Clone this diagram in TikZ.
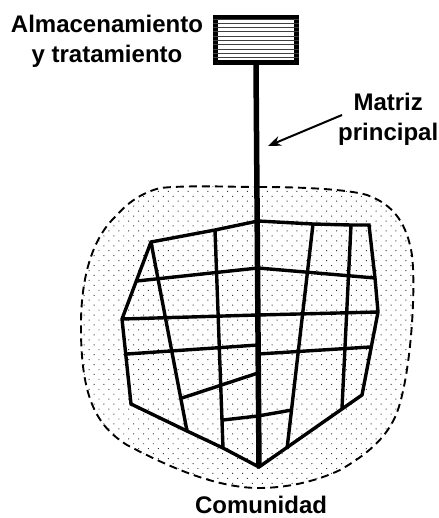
\documentclass[tikz,border=0pt]{standalone}
\usepackage{fontspec}
\setmainfont{Liberation Sans}
\usetikzlibrary{positioning}
\usetikzlibrary{patterns.meta}
\usetikzlibrary{arrows.meta}

\begin{document}
\begin{tikzpicture}[x = 1pt, y = -1pt]
  \tikzstyle{tank}=[
      rectangle, minimum width = 81pt, minimum height = 45pt
    , draw = black, line width = 5pt, inner sep = 0pt
    ]
  \tikzstyle{caption}=[
      inner sep = 0pt
    , font = \fontsize{24}{30}\selectfont\bfseries
    ]
  \tikzstyle{zone}=[
      draw = black, line width = 1.9pt, dash pattern = on 8pt off 5pt
    , pattern = {Dots[radius = 0.7pt, distance = 7pt, angle = 45]}
    , pattern color = black!80
    ]
  \tikzstyle{street}=[draw = black, line width = 3.4pt, line join = miter]
  \tikzstyle{trunk}=[draw = black, line width = 5.5pt]
  \tikzstyle{stripe}=[draw = black!75, line width = 0.8pt]
  \tikzstyle{connect}=[-{Stealth[length = 13pt, width = 10pt]}, line width = 2pt]

  \useasboundingbox (0,0) rectangle (438,518);

  % community area
  \draw[zone] (259,187)
    .. controls (310,187) and (350,190) .. (367,195)
    .. controls (395,205) and (407,225) .. (412,255)
    .. controls (416,290) and (411,365) .. (400,403)
    .. controls (393,430) and (375,450) .. (340,470)
    .. controls (315,482) and (285,488) .. (259,488)
    .. controls (215,488) and (165,465) .. (127,445)
    .. controls (95,425) and (80,395) .. (81,320)
    .. controls (82,270) and (95,235) .. (117,215)
    .. controls (130,200) and (145,192) .. (160,188)
    .. controls (190,185) and (230,187) .. (259,187) -- cycle;

  % outline of the network
  \coordinate (a) at (151,242);
  \coordinate (b) at (258,221);
  \coordinate (c) at (369,225);
  \coordinate (d) at (375,278);
  \coordinate (e) at (378,312);
  \coordinate (f) at (362,395);
  \coordinate (g) at (259,467);
  \coordinate (h) at (131,404);
  \coordinate (i) at (122,319);

  % points on the outline and on the trunk
  \coordinate (ab) at (215,230);
  \coordinate (bc1) at (313,224);
  \coordinate (bc2) at (351,225);
  \coordinate (hg1) at (187,431);
  \coordinate (hg2) at (223,448);
  \coordinate (fg1) at (342,408);
  \coordinate (fg2) at (287,449);
  \coordinate (ai) at (137,281);
  \coordinate (hi) at (127,354);
  \coordinate (de) at (370,347);
  \coordinate (t1) at (258,268);
  \coordinate (t2) at (258,315);
  \coordinate (t3) at (258,345);
  \coordinate (t3r) at (258,354);
  \coordinate (t4) at (258,373);
  \coordinate (t5) at (258,416);
  \coordinate (v1) at (182,398);
  \coordinate (v2) at (223,420);
  \coordinate (v3) at (292,410);

  \draw[street] (a) -- (ab) -- (b) -- (bc1) -- (bc2) -- (c) -- (d) -- (e)
    -- (f) -- (g) -- (hg2) -- (hg1) -- (h) -- (i) -- cycle;

  \path (a) edge [street] (hg1);
  \path (ab) edge [street] (hg2);
  \path (bc1) edge [street] (fg2);
  \path (bc2) edge [street] (fg1);
  \path (ai) edge [street] (t1);
  \path (t1) edge [street] (d);
  \path (i) edge [street] (t2);
  \path (t2) edge [street] (e);
  \path (hi) edge [street] (t3);
  \path (t3r) edge [street] (de);
  \path (v1) edge [street] (t4);
  \path (v2) edge [street] (t5);
  \path (t5) edge [street] (v3);

  % storage tank and main
  \node[tank, fill = white] (store) at (256,40) { };
  \foreach \n in {0,...,9} {
    \draw[stripe] ([yshift = -\n*4.3pt - 4pt]store.north west) -- ([yshift = -\n*4.3pt - 4pt]store.north east);
  }
  \path (store.south) edge [trunk] (g);

  \node[caption, align = center] (almacen) at (107,41) { Almacenamiento\\y tratamiento };
  \node[caption, align = center, anchor = west] (matriz) at (338,119) { Matriz\\principal };
  \node[caption] (comunidad) at (261,505) { Comunidad };

  \coordinate (tip) at (268,146);
  \draw[connect] ([shift = {(4pt,4pt)}]matriz.west) -- (tip);

\end{tikzpicture}
\end{document}
